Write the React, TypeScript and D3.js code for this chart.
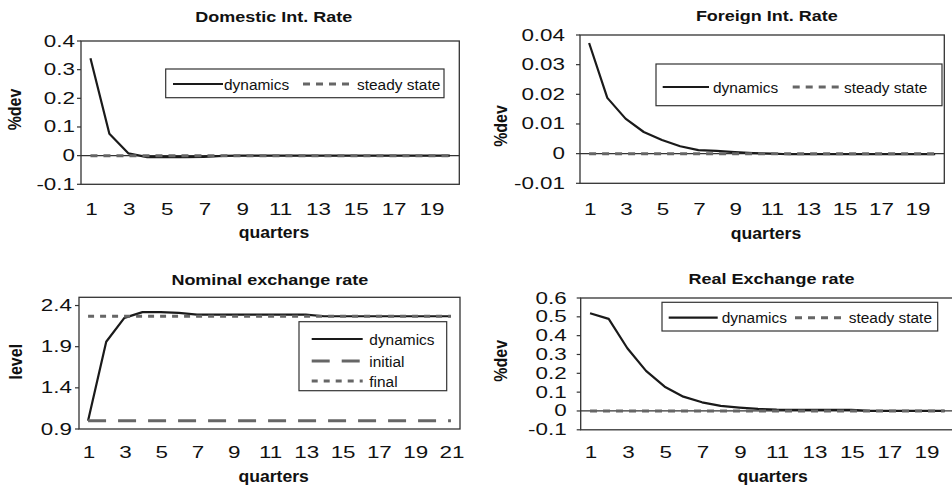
import React from "react";
import * as d3 from "d3";

// quarters on the category axis
const quarters20 = [1, 2, 3, 4, 5, 6, 7, 8, 9, 10, 11, 12, 13, 14, 15, 16, 17, 18, 19, 20];
const quarters21 = [1, 2, 3, 4, 5, 6, 7, 8, 9, 10, 11, 12, 13, 14, 15, 16, 17, 18, 19, 20, 21];

// Domestic Int. Rate (%dev)
const domesticDynamics = [0.34, 0.076, 0.008, -0.005, -0.005, -0.005, -0.004, -0.001, 0, 0, 0, 0, 0, 0, 0, 0, 0, 0, 0, 0];
const domesticSteady = [0, 0, 0, 0, 0, 0, 0, 0, 0, 0, 0, 0, 0, 0, 0, 0, 0, 0, 0, 0];
const domesticTicks = [-0.1, 0, 0.1, 0.2, 0.3, 0.4];

// Foreign Int. Rate (%dev)
const foreignDynamics = [0.0373, 0.0188, 0.0118, 0.0073, 0.0046, 0.0025, 0.0012, 0.0009, 0.0005, 0.0002, 0, -0.0002, -0.0002, -0.0002, -0.0002, -0.0002, -0.0002, -0.0002, -0.0002, -0.0002];
const foreignSteady = [0, 0, 0, 0, 0, 0, 0, 0, 0, 0, 0, 0, 0, 0, 0, 0, 0, 0, 0, 0];
const foreignTicks = [-0.01, 0, 0.01, 0.02, 0.03, 0.04];

// Nominal exchange rate (level)
const nominalDynamics = [1.0, 1.96, 2.25, 2.32, 2.32, 2.31, 2.29, 2.29, 2.29, 2.29, 2.29, 2.29, 2.29, 2.27, 2.27, 2.27, 2.27, 2.27, 2.27, 2.27, 2.27];
const nominalInitial = [1, 1, 1, 1, 1, 1, 1, 1, 1, 1, 1, 1, 1, 1, 1, 1, 1, 1, 1, 1, 1];
const nominalFinal = [2.27, 2.27, 2.27, 2.27, 2.27, 2.27, 2.27, 2.27, 2.27, 2.27, 2.27, 2.27, 2.27, 2.27, 2.27, 2.27, 2.27, 2.27, 2.27, 2.27, 2.27];
const nominalTicks = [0.9, 1.4, 1.9, 2.4];

// Real Exchange rate (%dev)
const realDynamics = [0.519, 0.489, 0.333, 0.213, 0.129, 0.076, 0.046, 0.027, 0.018, 0.011, 0.007, 0.006, 0.006, 0.006, 0.006, 0, 0, 0, 0, 0];
const realSteady = [0, 0, 0, 0, 0, 0, 0, 0, 0, 0, 0, 0, 0, 0, 0, 0, 0, 0, 0, 0];
const realTicks = [-0.1, 0, 0.1, 0.2, 0.3, 0.4, 0.5, 0.6];

const FONT = "'Liberation Sans', Arial, Helvetica, sans-serif";
const INK = "#1a1a1a";
const GREY = "#666666";

const solid = { stroke: INK, width: 2.2, dash: undefined };
const steady = { stroke: GREY, width: 3, dash: "7,6" };
const longDash = { stroke: GREY, width: 3, dash: "18,12" };
const shortDash = { stroke: GREY, width: 3, dash: "6,6" };

function Txt({ x, y, sx = 1, rotate = false, anchor = "middle", size, bold = false, children }) {
  const t = `translate(${x},${y}) scale(${sx},1)` + (rotate ? " rotate(-90)" : "");
  return (
    <text transform={t} textAnchor={anchor} fontFamily={FONT} fontSize={size}
      fontWeight={bold ? "bold" : "normal"} fill="#111">
      {children}
    </text>
  );
}

function Panel({ p }) {
  const x = d3.scaleBand().domain(p.cats).range([p.box.l, p.box.r]);
  const cx = (c) => x(c) + x.bandwidth() / 2;
  const y = d3.scaleLinear().domain(p.domain).range([p.box.b, p.box.t]);
  const line = d3.line().x((d, i) => cx(p.cats[i])).y((d) => y(d));
  return (
    <g>
      {p.zero && (
        <line x1={p.box.l} x2={p.box.r} y1={y(0)} y2={y(0)} stroke="#333" strokeWidth={1.2} />
      )}
      {p.series.map((s, i) => (
        <path key={i} d={line(s.values)} fill="none" stroke={s.style.stroke}
          strokeWidth={s.style.width} strokeDasharray={s.style.dash} strokeLinejoin="round" />
      ))}
      <rect x={p.box.l} y={p.box.t} width={p.box.r - p.box.l} height={p.box.b - p.box.t}
        fill="none" stroke="#333" strokeWidth={1.3} />
      {p.ticks.map((t) => (
        <g key={t}>
          <line x1={p.box.l - 4} x2={p.box.l} y1={y(t)} y2={y(t)} stroke="#333" strokeWidth={1.2} />
          <Txt x={p.tickRight} y={y(t) + 5.5} anchor="end" size={16} sx={1.4}>{String(t)}</Txt>
        </g>
      ))}
      {p.cats.filter((c) => c % 2 === 1).map((c) => (
        <Txt key={c} x={cx(c) + 1} y={p.xTickY} size={16} sx={1.4}>{String(c)}</Txt>
      ))}
      <Txt x={p.title[0]} y={p.title[1]} size={15} bold sx={1.2}>{p.titleText}</Txt>
      <Txt x={p.xTitle[0]} y={p.xTitle[1]} size={16} bold sx={1.1}>quarters</Txt>
      <Txt x={p.yTitle[0]} y={p.yTitle[1]} size={16} bold sx={1.1} rotate>{p.yText}</Txt>
      <rect x={p.legend.x} y={p.legend.y} width={p.legend.w} height={p.legend.h}
        fill="#fff" stroke="#333" strokeWidth={1.2} />
      {p.legend.items.map((it, i) => (
        <g key={i}>
          <line x1={it.x1} x2={it.x2} y1={it.y} y2={it.y} stroke={it.style.stroke}
            strokeWidth={it.style.width} strokeDasharray={it.style.dash} />
          <Txt x={it.tx} y={it.y + 5.5} anchor="start" size={15} sx={1.03}>{it.label}</Txt>
        </g>
      ))}
    </g>
  );
}

const panels = [
  {
    cats: quarters20, domain: [-0.1, 0.4], ticks: domesticTicks, zero: true,
    box: { l: 81, r: 459.3, t: 41, b: 184.3 },
    series: [{ values: domesticDynamics, style: solid }, { values: domesticSteady, style: steady }],
    tickRight: 75, xTickY: 215, titleText: "Domestic Int. Rate", yText: "%dev",
    title: [273.7, 22], xTitle: [274, 238], yTitle: [21, 109.5],
    legend: {
      x: 165.7, y: 69, w: 278.3, h: 28.7,
      items: [
        { label: "dynamics", style: solid, x1: 173, x2: 223, tx: 224, y: 84 },
        { label: "steady state", style: steady, x1: 303, x2: 353, tx: 357, y: 84 },
      ],
    },
  },
  {
    cats: quarters20, domain: [-0.01, 0.04], ticks: foreignTicks, zero: true,
    box: { l: 580, r: 944.3, t: 35, b: 183.3 },
    series: [{ values: foreignDynamics, style: solid }, { values: foreignSteady, style: steady }],
    tickRight: 565, xTickY: 215, titleText: "Foreign Int. Rate", yText: "%dev",
    title: [766.8, 21], xTitle: [766, 239], yTitle: [507, 126],
    legend: {
      x: 656, y: 64, w: 286, h: 41.7,
      items: [
        { label: "dynamics", style: solid, x1: 662.7, x2: 709, tx: 713, y: 87 },
        { label: "steady state", style: steady, x1: 792.7, x2: 841.7, tx: 844, y: 87 },
      ],
    },
  },
  {
    cats: quarters21, domain: [0.9, 2.5], ticks: nominalTicks, zero: false,
    box: { l: 79, r: 460, t: 297.3, b: 429 },
    series: [
      { values: nominalDynamics, style: solid },
      { values: nominalInitial, style: longDash },
      { values: nominalFinal, style: shortDash },
    ],
    tickRight: 72, xTickY: 458, titleText: "Nominal exchange rate", yText: "level",
    title: [269.8, 285], xTitle: [273.7, 482], yTitle: [22, 361.7],
    legend: {
      x: 299, y: 321.7, w: 147.7, h: 69,
      items: [
        { label: "dynamics", style: solid, x1: 311.7, x2: 362.7, tx: 369.3, y: 339 },
        { label: "initial", style: longDash, x1: 311.7, x2: 362.7, tx: 369.3, y: 361 },
        { label: "final", style: shortDash, x1: 311.7, x2: 362.7, tx: 369.3, y: 381 },
      ],
    },
  },
  {
    cats: quarters20, domain: [-0.1, 0.6], ticks: realTicks, zero: true,
    box: { l: 580.7, r: 954, t: 298, b: 429.8 },
    series: [{ values: realDynamics, style: solid }, { values: realSteady, style: steady }],
    tickRight: 566.7, xTickY: 458, titleText: "Real Exchange rate", yText: "%dev",
    title: [771.5, 284], xTitle: [772.7, 482], yTitle: [507, 360.8],
    legend: {
      x: 662, y: 302.3, w: 275.7, h: 28.7,
      items: [
        { label: "dynamics", style: solid, x1: 668.7, x2: 717.7, tx: 721.7, y: 317.7 },
        { label: "steady state", style: steady, x1: 795, x2: 844, tx: 848.7, y: 317.7 },
      ],
    },
  },
];

export default function App() {
  return (
    <svg width={952} height={490} style={{ position: "absolute", left: 0, top: 0, background: "#fff" }}>
      <rect width={952} height={490} fill="#fff" />
      {panels.map((p, i) => (
        <Panel key={i} p={p} />
      ))}
    </svg>
  );
}
